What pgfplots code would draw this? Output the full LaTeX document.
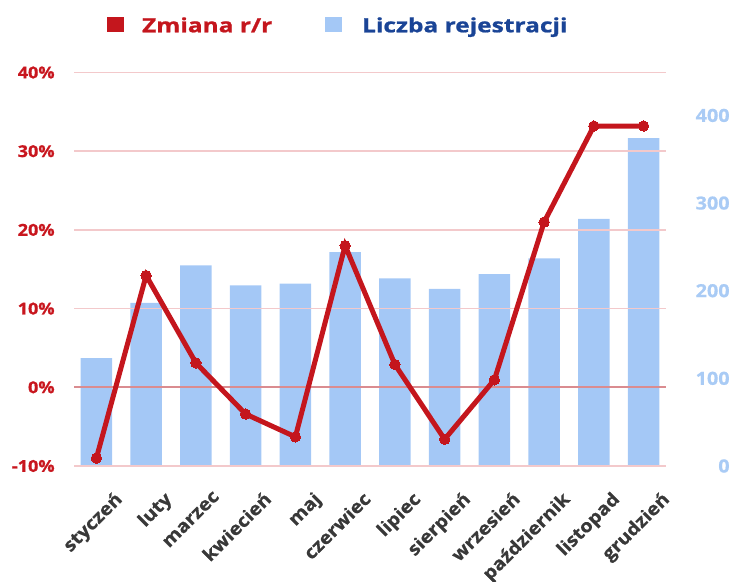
\documentclass[border=0pt]{standalone}
\usepackage{fontspec}
\setmainfont{Open Sans}[FakeStretch=1.1, BoldFeatures={FakeBold=0.8}]
\newfontfamily\legfont{Open Sans}[FakeStretch=1.25, BoldFeatures={FakeBold=1.0}]
\usepackage{pgfplots}
\pgfplotsset{compat=1.18}
\definecolor{barblue}{HTML}{A4C8F6}
\definecolor{linered}{HTML}{C4161D}
\definecolor{tickred}{HTML}{C8161E}
\definecolor{gridpink}{HTML}{F3C9CB}
\definecolor{zeroline}{HTML}{DA8C90}
\definecolor{rightblue}{HTML}{A9CBF5}
\definecolor{legblue}{HTML}{1A4496}
\definecolor{labgray}{HTML}{383838}
\begin{document}
\begin{tikzpicture}
% bars (right axis)
\begin{axis}[
  scale only axis, width=296pt, height=196.75pt,
  at={(37pt,58pt)}, anchor=south west,
  xmin=-0.45, xmax=11.45,
  ymin=0, ymax=449,
  axis y line*=right,
  axis x line=none,
  axis line style={draw=none},
  tick style={draw=none},
  ytick={0,100,200,300,400},
  yticklabel style={anchor=east, inner sep=0pt, xshift=32pt, text=rightblue, font=\fontsize{9}{10}\selectfont\bfseries},
  /pgf/number format/assume math mode=true,
]
\addplot[ybar, bar width=0.63, fill=barblue, draw=none] coordinates {
  (0,123) (1,186) (2,229) (3,206) (4,208) (5,244)
  (6,214) (7,202) (8,219) (9,237) (10,282) (11,374)
};
\end{axis}
% line (left axis)
\begin{axis}[
  scale only axis, width=296pt, height=196.75pt,
  at={(37pt,58pt)}, anchor=south west,
  xmin=-0.45, xmax=11.45,
  ymin=-10, ymax=40,
  axis y line*=left,
  axis x line*=bottom,
  axis line style={draw=none},
  tick style={draw=none},
  ytick={-10,0,10,20,30,40},
  yticklabel={\pgfmathprintnumber{\tick}\%},
  yticklabel style={anchor=east, inner sep=0pt, xshift=-9.5pt, text=tickred, font=\fontsize{8.2}{10}\selectfont\bfseries},
  /pgf/number format/assume math mode=true,
  ymajorgrids,
  grid style={gridpink, line width=0.8pt},
  extra y ticks={0},
  extra y tick labels={},
  extra y tick style={grid style={zeroline, line width=0.8pt}},
  xtick={0,...,11},
  xticklabels={styczeń, luty, marzec, kwiecień, maj, czerwiec, lipiec, sierpień, wrzesień, październik, listopad, grudzień},
  xticklabel style={xshift=8.5pt, yshift=-12pt, rotate=45, anchor=north east, inner sep=0pt, text=labgray, font=\fontsize{9}{10}\selectfont\bfseries},
]
\addplot[linered, line width=2.5pt, mark=*, mark size=2.6pt, mark options={fill=linered, draw=linered, line width=0pt}] coordinates {
  (0,-9.0) (1,14.2) (2,3.1) (3,-3.4) (4,-6.3) (5,18.0)
  (6,2.9) (7,-6.6) (8,0.95) (9,21.0) (10,33.2) (11,33.2)
};
\end{axis}
% legend
\fill[linered] (53.35pt,275.15pt) rectangle (62.15pt,282.65pt);
\node[anchor=base west, inner sep=0pt, text=linered, font=\legfont\fontsize{9.8}{11}\selectfont\bfseries] at (70.85pt,274.85pt) {Zmiana r/r};
\fill[barblue] (162.5pt,275.15pt) rectangle (170.85pt,282.65pt);
\node[anchor=base west, inner sep=0pt, text=legblue, font=\legfont\fontsize{9.8}{11}\selectfont\bfseries] at (180.85pt,274.85pt) {Liczba rejestracji};
\pgfresetboundingbox
\path[use as bounding box] (0pt,0pt) rectangle (372.5pt,291pt);
\end{tikzpicture}
\end{document}
